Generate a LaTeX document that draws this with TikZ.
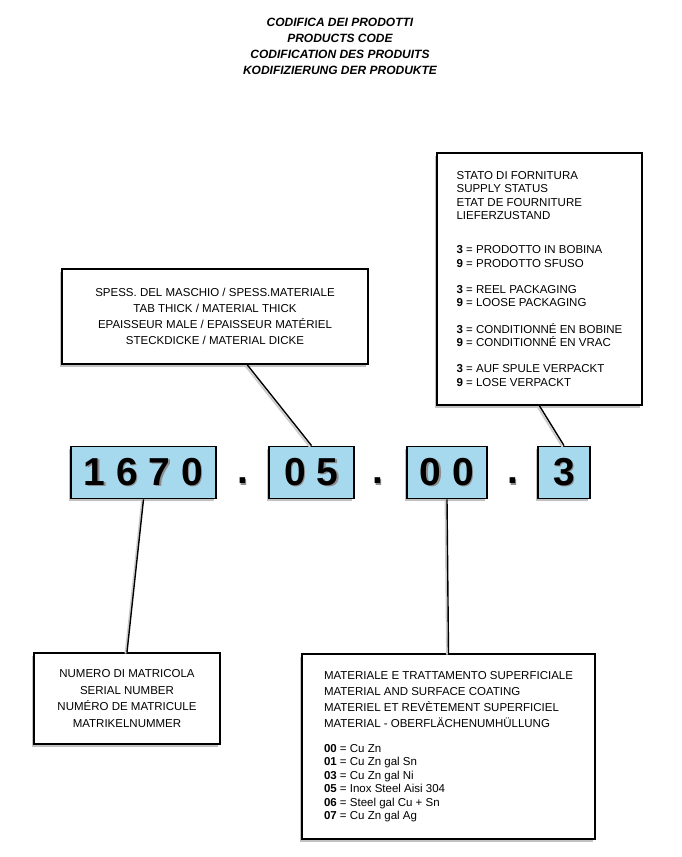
\documentclass[tikz,border=0pt]{standalone}
\usepackage{fontspec}
\setmainfont{Liberation Sans}
\usetikzlibrary{calc,shadows}
\definecolor{codeblue}{RGB}{166,216,238}
\newcommand\embossed[1]{\rlap{\hspace{1.4pt}\raisebox{-1.4pt}{\textcolor{black!45}{#1}}}#1}

\begin{document}
\begin{tikzpicture}[x=1pt,y=-1pt,
  every node/.style={font=\fontsize{11.5}{13.5}\selectfont},
  boxshadow/.style={drop shadow={shadow xshift=-2.5pt,shadow yshift=-2.5pt,fill=black!60,opacity=.4}},
  infobox/.style={draw,line width=1.8pt,fill=white,boxshadow},
  codebox/.style={draw,line width=1.8pt,fill=codeblue,boxshadow,minimum height=52pt,inner sep=0pt,
    font=\fontsize{39}{39}\selectfont\bfseries},
  codedot/.style={inner sep=0pt,font=\fontsize{39}{39}\selectfont\bfseries},
  lead/.style={line width=1.4pt},
  leadshade/.style={line width=1.8pt,black!20}]
\useasboundingbox (0,0) rectangle (682,857);

\node[align=center,font=\fontsize{12}{16}\selectfont\bfseries\itshape] (title) at (340,46)
  {CODIFICA DEI PRODOTTI\\PRODUCTS CODE\\CODIFICATION DES PRODUITS\\KODIFIZIERUNG DER PRODUKTE};

\node[infobox,minimum width=306pt,minimum height=95pt,align=center,font=\fontsize{11.5}{16}\selectfont] (thick) at (215,316.5)
  {SPESS. DEL MASCHIO / SPESS.MATERIALE\\TAB THICK / MATERIAL THICK\\EPAISSEUR MALE / EPAISSEUR MATÉRIEL\\STECKDICKE / MATERIAL DICKE};

\node[infobox,minimum width=205pt,minimum height=252pt,align=left] (status) at (539.5,279)
  {STATO DI FORNITURA\\SUPPLY STATUS\\ETAT DE FOURNITURE\\LIEFERZUSTAND\\[20.5pt]
   \textbf{3} = PRODOTTO IN BOBINA\\\textbf{9} = PRODOTTO SFUSO\\[12.5pt]
   \textbf{3} = REEL PACKAGING\\\textbf{9} = LOOSE PACKAGING\\[13pt]
   \textbf{3} = CONDITIONNÉ EN BOBINE\\\textbf{9} = CONDITIONNÉ EN VRAC\\[12.5pt]
   \textbf{3} = AUF SPULE VERPACKT\\\textbf{9} = LOSE VERPACKT};

\foreach \name/\x/\w/\digits in {c1670/143.5/145/1 6 7 0, c05/311.5/85/0 5, c00/447/80/0 0, c3/564/52/3}
  \node[codebox,minimum width=\w pt] (\name) at (\x,472.5) {\embossed{\digits}};
\foreach \x [count=\i] in {243,378,513}
  \node[codedot] (dot\i) at (\x,481.5) {\embossed{.}};

\node[infobox,minimum width=186pt,minimum height=91pt,align=center,font=\fontsize{11.5}{16.5}\selectfont] (serial) at (127,698.5)
  {NUMERO DI MATRICOLA\\SERIAL NUMBER\\NUMÉRO DE MATRICULE\\MATRIKELNUMMER};

\node[infobox,minimum width=293pt,minimum height=185pt,align=left] (mat) at (448.5,746.5)
  {MATERIALE E TRATTAMENTO SUPERFICIALE\\[2.5pt]MATERIAL AND SURFACE COATING\\[2.5pt]
   MATERIEL ET REVÈTEMENT SUPERFICIEL\\[2.5pt]MATERIAL - OBERFLÄCHENUMHÜLLUNG\\[11.5pt]
   \textbf{00} = Cu Zn\\\textbf{01} = Cu Zn gal Sn\\\textbf{03} = Cu Zn gal Ni\\
   \textbf{05} = Inox Steel Aisi 304\\\textbf{06} = Steel gal Cu + Sn\\\textbf{07} = Cu Zn gal Ag};

\coordinate (thicktip) at ($(thick.south west)!.605!(thick.south east)$);
\foreach \a/\b in {thicktip/c05.north, status.south/c3.north, c1670.south/serial.north, c00.south/mat.north} {
  \draw[leadshade] ([shift={(-1.5pt,-1.5pt)}]\a) -- ([shift={(-1.5pt,-1.5pt)}]\b);
  \draw[lead] (\a) -- (\b);
}
\end{tikzpicture}
\end{document}
